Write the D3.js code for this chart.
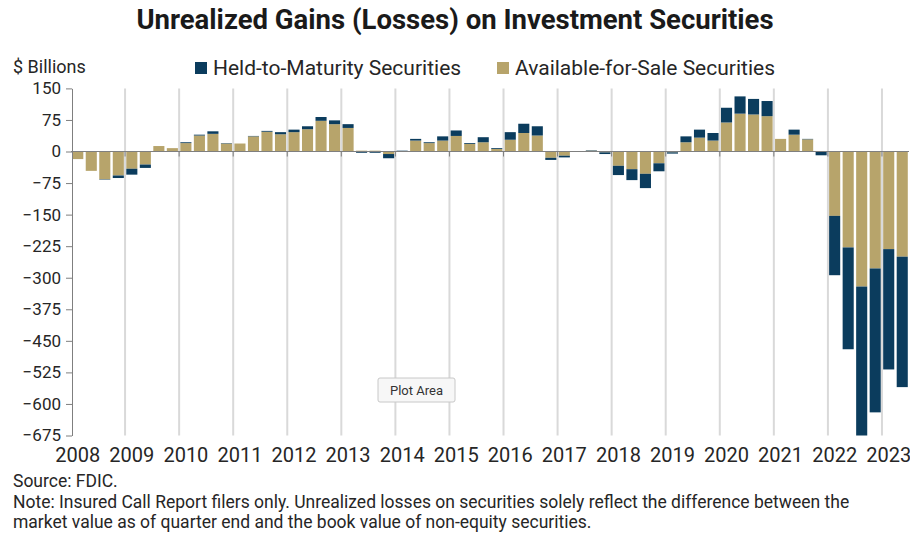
<!DOCTYPE html>
<html>
<head>
<meta charset="utf-8">
<script src="https://cdn.jsdelivr.net/npm/d3@7"></script>
<style>
  body { margin: 0; background: #fff; }
  svg { display: block; font-family: Roboto, "Liberation Sans", sans-serif; }
  .grid line { stroke: #d9d9d9; stroke-width: 2; }
  .axis path, .axis line { stroke: #7f7f7f; }
  .axis text { fill: #262626; }
</style>
</head>
<body>
<svg id="chart" width="910" height="533"></svg>
<script>
// quarters, 2008Q1 .. 2023Q2
var years = ['2008', '2009', '2010', '2011', '2012', '2013', '2014', '2015',
  '2016', '2017', '2018', '2019', '2020', '2021', '2022', '2023']
var quarters = []
years.forEach(function (y) {
  ['Q1', 'Q2', 'Q3', 'Q4'].forEach(function (q) {
    if (y === '2023' && (q === 'Q3' || q === 'Q4')) return
    quarters.push(y + q)
  })
})

// $ billions
var afs = [
  -18, -46, -66, -57,
  -41, -31, 13, 8,
  20, 38, 42, 19,
  19, 36, 47, 41,
  46, 53, 73, 65,
  56, 2, 2, -6,
  0, 26, 20, 26,
  37, 18, 22, 6,
  28, 44, 38, -15,
  -10, 0, 2, -2,
  -34, -42, -53, -28,
  -2, 22, 33, 26,
  69, 90, 88, 84,
  30, 40, 29, -1,
  -153, -228, -321, -278,
  -232, -250
]
var htm = [
  1, 0, -1, -6,
  -14, -8, 0, 0,
  2, 2, 6, 1,
  0, 1, 2, 5,
  6, 7, 9, 9,
  9, -3, -3, -10,
  2, 4, 2, 10,
  13, 2, 12, 2,
  18, 22, 22, -5,
  -4, -1, 1, -4,
  -22, -26, -34, -19,
  -3, 14, 19, 18,
  35, 41, 37, 36,
  0, 12, 1, -8,
  -141, -242, -369, -342,
  -286, -310
]
var yTicks = [150, 75, 0, -75, -150, -225, -300, -375, -450, -525, -600, -675]

var colors = { htm: '#0b3c5d', afs: '#b7a46b' }

var table = quarters.map(function (q, i) {
  return { q: q, afs: afs[i], htm: htm[i] }
})

var svg = d3.select('#chart')

var plotLeft = 71, plotRight = 909, plotTop = 88.4, plotBottom = 435.5

var x = d3.scaleBand()
  .domain(quarters)
  .range([plotLeft, plotRight])
  .paddingInner(0.18)
  .paddingOuter(0.09)

var y = d3.scaleLinear()
  .domain([150, -675])
  .range([plotTop, plotBottom])

var series = d3.stack()
  .keys(['afs', 'htm'])
  .offset(d3.stackOffsetDiverging)(table)

// year boundaries
var step = x.step()
var boundaries = years.slice(1).map(function (yr) {
  return x(yr + 'Q1') - step * x.paddingInner() / 2
})

svg.append('g')
  .attr('class', 'grid')
  .selectAll('line')
  .data(boundaries)
  .enter().append('line')
    .attr('x1', function (d) { return d })
    .attr('x2', function (d) { return d })
    .attr('y1', plotTop)
    .attr('y2', plotBottom)

svg.append('clipPath')
  .attr('id', 'plot-clip')
  .append('rect')
    .attr('x', plotLeft)
    .attr('y', plotTop)
    .attr('width', plotRight - plotLeft + 2)
    .attr('height', plotBottom - plotTop)

svg.append('g')
  .attr('clip-path', 'url(#plot-clip)')
  .selectAll('g')
  .data(series)
  .enter().append('g')
    .attr('fill', function (s) { return colors[s.key] })
  .selectAll('rect')
  .data(function (s) { return s })
  .enter().append('rect')
    .attr('x', function (d) { return x(d.data.q) })
    .attr('width', x.bandwidth())
    .attr('y', function (d) { return y(Math.max(d[0], d[1])) })
    .attr('height', function (d) { return Math.abs(y(d[0]) - y(d[1])) })

// zero line with ticks at year boundaries
var zero = svg.append('g').attr('class', 'axis')
zero.append('line')
  .attr('x1', plotLeft)
  .attr('x2', plotRight)
  .attr('y1', y(0))
  .attr('y2', y(0))
zero.selectAll('.zt')
  .data(boundaries)
  .enter().append('line')
    .attr('class', 'zt')
    .attr('x1', function (d) { return d })
    .attr('x2', function (d) { return d })
    .attr('y1', y(0))
    .attr('y2', y(0) + 5)

// y axis
svg.append('g')
  .attr('class', 'axis')
  .attr('transform', 'translate(' + (plotLeft + 1) + ',0)')
  .call(d3.axisLeft(y).tickValues(yTicks).tickSize(6).tickSizeOuter(0).tickPadding(5))
  .call(function (g) {
    g.selectAll('text').attr('font-size', 17).attr('font-family', 'Roboto, sans-serif')
  })

// x labels at first quarter of each year
svg.append('g')
  .attr('class', 'axis')
  .attr('transform', 'translate(0,' + plotBottom + ')')
  .call(d3.axisBottom(x)
    .tickValues(years.map(function (yr) { return yr + 'Q1' }))
    .tickFormat(function (d) { return d.slice(0, 4) })
    .tickSize(0)
    .tickPadding(12))
  .call(function (g) {
    g.select('.domain').remove()
    g.selectAll('text').attr('font-size', 20).attr('font-family', 'Roboto, sans-serif')
  })

// title
svg.append('text')
  .attr('x', 455)
  .attr('y', 29)
  .attr('text-anchor', 'middle')
  .attr('font-size', 27.5)
  .attr('font-weight', 'bold')
  .attr('fill', '#1a1a1a')
  .text('Unrealized Gains (Losses) on Investment Securities')

svg.append('text')
  .attr('x', 13)
  .attr('y', 73)
  .attr('font-size', 18)
  .attr('fill', '#262626')
  .text('$ Billions')

// legend
var legend = [
  { key: 'htm', label: 'Held-to-Maturity Securities', x: 195 },
  { key: 'afs', label: 'Available-for-Sale Securities', x: 497 }
]
var lg = svg.append('g').selectAll('g')
  .data(legend)
  .enter().append('g')
    .attr('transform', function (d) { return 'translate(' + d.x + ',62)' })
lg.append('rect')
  .attr('width', 12)
  .attr('height', 12)
  .attr('fill', function (d) { return colors[d.key] })
lg.append('text')
  .attr('x', 18)
  .attr('y', 13)
  .attr('font-size', 21)
  .attr('fill', '#262626')
  .text(function (d) { return d.label })

// notes
var notes = [
  'Source: FDIC.',
  'Note: Insured Call Report filers only. Unrealized losses on securities solely reflect the difference between the',
  'market value as of quarter end and the book value of non-equity securities.'
]
svg.append('g').selectAll('text')
  .data(notes)
  .enter().append('text')
    .attr('x', 13)
    .attr('y', function (d, i) { return 487 + i * 20.5 })
    .attr('font-size', 17.5)
    .attr('fill', '#262626')
    .text(function (d) { return d })

// the "Plot Area" hover tip seen in the picture
var tip = svg.append('g').attr('transform', 'translate(378,378)')
tip.append('rect')
  .attr('width', 77)
  .attr('height', 24)
  .attr('rx', 2)
  .attr('fill', '#f7f7f7')
  .attr('stroke', '#c8c8c8')
tip.append('text')
  .attr('x', 38.5)
  .attr('y', 17)
  .attr('text-anchor', 'middle')
  .attr('font-size', 13)
  .attr('fill', '#333')
  .text('Plot Area')
</script>
</body>
</html>
